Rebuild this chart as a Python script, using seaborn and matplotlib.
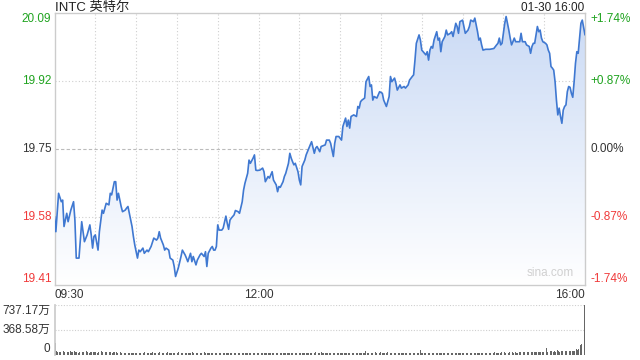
import matplotlib
matplotlib.use("Agg")
import matplotlib.pyplot as plt
import matplotlib.transforms as mtransforms
from matplotlib.colors import LinearSegmentedColormap
import numpy as np
import pandas as pd
import seaborn as sns

# ---------------- data ----------------
title = "INTC 英特尔"
stamp = "01-30 16:00"
prev_close = 19.75
y_ticks = [19.41, 19.58, 19.75, 19.92, 20.09]
pct_labels = ["-1.74%", "-0.87%", "0.00%", "+0.87%", "+1.74%"]
time_labels = ["09:30", "12:00", "16:00"]
time_label_pos = [0, 150, 390]

# minutes after 09:30
minutes = [0, 1, 3, 5, 6, 7, 8, 9, 10, 12, 14, 15, 16, 18, 20, 21, 22, 24, 25, 26,
           27, 28, 29, 30, 32, 33, 35, 36, 38, 40, 41, 42, 44, 45, 46, 47, 49, 50, 52, 53,
           54, 56, 57, 58, 59, 61, 62, 63, 65, 66, 68, 69, 71, 73, 75, 76, 77, 78, 80, 81,
           82, 84, 85, 87, 88, 89, 91, 93, 94, 96, 97, 98, 100, 101, 102, 104, 105, 107, 108, 110,
           111, 112, 113, 115, 116, 117, 118, 119, 120, 121, 123, 124, 126, 127, 128, 129, 130, 132, 133, 135,
           136, 138, 139, 140, 142, 143, 144, 146, 147, 148, 149, 151, 153, 154, 155, 157, 158, 160, 161, 163,
           164, 165, 166, 168, 169, 170, 172, 173, 174, 175, 176, 177, 179, 180, 181, 182, 184, 185, 187, 188,
           189, 191, 192, 193, 195, 196, 199, 200, 202, 203, 205, 206, 207, 209, 211, 212, 214, 215, 216, 217,
           218, 220, 222, 223, 224, 225, 226, 228, 229, 231, 232, 233, 234, 235, 237, 238, 239, 241, 242, 244,
           245, 246, 247, 248, 250, 251, 252, 254, 255, 257, 258, 260, 261, 263, 264, 265, 266, 268, 269, 270,
           271, 273, 274, 275, 276, 277, 278, 279, 281, 282, 283, 284, 285, 287, 288, 289, 291, 292, 293, 295,
           296, 297, 298, 300, 301, 302, 304, 305, 306, 308, 309, 310, 311, 312, 313, 314, 315, 317, 320, 323,
           325, 326, 327, 328, 329, 331, 332, 333, 334, 335, 336, 337, 338, 339, 340, 342, 343, 344, 346, 347,
           349, 350, 351, 352, 353, 354, 355, 356, 357, 358, 359, 361, 362, 363, 364, 365, 366, 367, 368, 369,
           370, 371, 372, 373, 374, 375, 376, 377, 378, 379, 380, 381, 382, 383, 384, 385, 386, 387, 388, 390]

prices = [19.582, 19.544, 19.640, 19.619, 19.623, 19.557, 19.573, 19.590, 19.569, 19.598,
          19.619, 19.573, 19.478, 19.478, 19.569, 19.544, 19.519, 19.536, 19.548, 19.561,
          19.536, 19.503, 19.532, 19.536, 19.498, 19.544, 19.598, 19.590, 19.615, 19.611,
          19.640, 19.636, 19.669, 19.669, 19.623, 19.640, 19.607, 19.594, 19.598, 19.603,
          19.607, 19.573, 19.557, 19.532, 19.511, 19.478, 19.498, 19.494, 19.503, 19.490,
          19.498, 19.494, 19.507, 19.528, 19.523, 19.528, 19.544, 19.528, 19.511, 19.498,
          19.503, 19.498, 19.478, 19.473, 19.457, 19.432, 19.453, 19.482, 19.498, 19.486,
          19.478, 19.469, 19.490, 19.469, 19.482, 19.461, 19.473, 19.486, 19.490, 19.482,
          19.494, 19.457, 19.490, 19.503, 19.507, 19.498, 19.498, 19.507, 19.561, 19.548,
          19.548, 19.553, 19.583, 19.565, 19.550, 19.573, 19.578, 19.586, 19.597, 19.594,
          19.590, 19.619, 19.648, 19.665, 19.690, 19.723, 19.715, 19.728, 19.736, 19.698,
          19.697, 19.698, 19.703, 19.694, 19.669, 19.682, 19.678, 19.694, 19.673, 19.661,
          19.644, 19.657, 19.655, 19.669, 19.682, 19.690, 19.715, 19.740, 19.728, 19.719,
          19.711, 19.715, 19.694, 19.673, 19.661, 19.707, 19.723, 19.736, 19.753, 19.761,
          19.769, 19.740, 19.753, 19.757, 19.744, 19.757, 19.761, 19.773, 19.773, 19.765,
          19.732, 19.765, 19.782, 19.782, 19.773, 19.807, 19.828, 19.807, 19.823, 19.803,
          19.832, 19.836, 19.832, 19.857, 19.853, 19.869, 19.873, 19.878, 19.919, 19.932,
          19.907, 19.911, 19.873, 19.882, 19.878, 19.886, 19.894, 19.890, 19.873, 19.857,
          19.869, 19.882, 19.932, 19.919, 19.928, 19.915, 19.898, 19.911, 19.903, 19.907,
          19.903, 19.911, 19.923, 19.932, 19.936, 19.973, 20.015, 20.036, 20.023, 19.998,
          19.994, 19.986, 19.994, 19.973, 19.998, 20.007, 20.003, 20.023, 20.044, 20.023,
          20.028, 19.994, 20.019, 20.032, 20.048, 20.036, 20.040, 20.044, 20.032, 20.065,
          20.057, 20.040, 20.069, 20.073, 20.057, 20.040, 20.048, 20.057, 20.073, 20.069,
          20.078, 20.061, 20.044, 20.023, 20.028, 20.011, 19.998, 20.000, 20.000, 20.002,
          20.011, 20.015, 20.028, 20.011, 20.015, 20.065, 20.082, 20.065, 20.048, 20.028,
          20.011, 20.019, 20.028, 20.019, 20.019, 20.019, 20.040, 20.019, 20.019, 20.011,
          20.007, 19.990, 20.007, 20.015, 20.015, 20.036, 20.057, 20.044, 20.048, 20.028,
          20.019, 20.015, 20.011, 19.998, 19.990, 19.957, 19.953, 19.948, 19.919, 19.873,
          19.836, 19.853, 19.832, 19.815, 19.848, 19.857, 19.861, 19.894, 19.907, 19.905,
          19.890, 19.880, 19.919, 19.965, 19.994, 19.990, 20.028, 20.065, 20.073, 20.036]

# volume per minute, in 万 shares (09:30 .. 16:00)
volume = [
    170, 45, 30, 40, 35, 28, 50, 38, 30, 42, 36, 55, 40, 33, 45, 38, 30, 28, 35, 40, 32, 30, 36, 45, 30, 28, 33, 40, 35, 30,
    30, 28, 35, 32, 45, 30, 26, 38, 40, 52, 35, 30, 28, 33, 36, 30, 27, 25, 30, 28, 26, 24, 28, 30, 25, 27, 26, 24, 22, 25,
    24, 26, 22, 25, 28, 24, 30, 26, 22, 25, 27, 24, 32, 28, 25, 24, 26, 30, 28, 25, 24, 27, 26, 30, 28, 24, 25, 26, 28, 24,
    26, 30, 28, 24, 25, 34, 28, 26, 24, 25, 27, 30, 26, 24, 28, 26, 25, 24, 23, 26, 40, 28, 25, 24, 26, 24, 23, 25, 24, 22,
    22, 24, 23, 21, 22, 25, 23, 22, 24, 21, 22, 23, 25, 22, 21, 24, 22, 23, 22, 21, 22, 24, 23, 22, 21, 22, 23, 22, 24, 21,
    22, 21, 23, 22, 20, 22, 24, 21, 22, 23, 21, 20, 22, 24, 21, 22, 23, 22, 21, 20, 22, 21, 23, 24, 22, 21, 20, 22, 23, 21,
    22, 23, 21, 24, 22, 26, 24, 23, 25, 28, 26, 24, 30, 35, 28, 26, 30, 27, 25, 28, 26, 24, 27, 25, 26, 24, 22, 25, 24, 23,
    25, 24, 26, 23, 22, 24, 26, 25, 28, 24, 22, 23, 25, 24, 26, 22, 23, 24, 22, 50, 23, 25, 24, 22, 26, 28, 30, 24, 26, 28,
    30, 26, 28, 25, 27, 30, 26, 25, 28, 24, 26, 27, 25, 28, 26, 24, 25, 27, 26, 24, 25, 26, 28, 24, 23, 25, 70, 22, 23, 68,
    22, 23, 21, 22, 24, 22, 21, 23, 22, 21, 22, 23, 24, 22, 21, 23, 22, 24, 23, 22, 21, 22, 25, 23, 22, 24, 22, 21, 23, 22,
    24, 22, 23, 25, 22, 24, 23, 21, 22, 24, 23, 25, 22, 24, 26, 23, 25, 24, 22, 26, 25, 24, 28, 26, 30, 27, 25, 28, 26, 30,
    28, 30, 26, 32, 28, 30, 27, 31, 28, 30, 29, 27, 32, 30, 28, 33, 30, 29, 34, 31, 30, 35, 32, 30, 36, 33, 34, 38, 35, 36,
    40, 45, 100, 42, 38, 50, 45, 40, 48, 42, 60, 45, 42, 50, 48, 44, 52, 50, 46, 55, 50, 48, 58, 52, 75, 60, 80, 135, 150, 343,
    737.17]
vol_max = 737.17
vol_tick_labels = ["0", "368.58万", "737.17万"]

# ---------------- style ----------------
sns.set_theme(style="white")
plt.rcParams["font.family"] = ["Liberation Sans", "Noto Sans CJK SC", "DejaVu Sans"]

GREEN = "#1fa31f"
RED = "#f03a3a"
DARK = "#333333"
LINE = "#3f78d1"
FRAME = "#cccccc"
GRID = "#cfcfcf"
FS = 8.5

df = pd.DataFrame({"minute": minutes, "price": prices})
vdf = pd.DataFrame({"minute": np.arange(len(volume)), "vol": volume})

fig = plt.figure(figsize=(6.4, 3.6), dpi=100)
W, H = 640.0, 360.0
left, right = 54.5, 585.0
ax = fig.add_axes([left / W, 1 - 285.3 / H, (right - left) / W, 272 / H])
axv = fig.add_axes([left / W, 1 - 354.5 / H, (right - left) / W, 49.5 / H])

ymin, ymax = y_ticks[0], y_ticks[-1]

# gradient fill under the line
grad = np.linspace(1, 0, 256).reshape(-1, 1)
cmap = LinearSegmentedColormap.from_list("g", ["#ffffff", "#cadaf5"])
im = ax.imshow(grad, aspect="auto", cmap=cmap, extent=[0, 390, ymin, ymax],
               origin="upper", zorder=1, vmin=0, vmax=1)
poly = ax.fill_between(df["minute"], df["price"], ymin, color="none", lw=0)
im.set_clip_path(poly.get_paths()[0], transform=ax.transData)

sns.lineplot(data=df, x="minute", y="price", ax=ax, color=LINE, lw=1.2, zorder=3)

ax.set_xlim(0, 390)
ax.set_ylim(ymin, ymax)
ax.set_xlabel("")
ax.set_ylabel("")
ax.set_xticks([])
ax.set_yticks([])
tick_colors = [RED, RED, DARK, GREEN, GREEN]
tick_va = ["bottom", "center", "center", "center", "top"]

# grid lines
for m in range(30, 390, 30):
    ax.axvline(m, color=GRID, lw=0.8, ls=(0, (1, 2)), zorder=0.5)
for v in y_ticks[1:-1]:
    ax.axhline(v, color="#bbbbbb" if v == prev_close else GRID, lw=0.8,
               ls=(0, (3, 2)) if v == prev_close else (0, (1, 2)), zorder=0.5)

for s in ax.spines.values():
    s.set_color(FRAME)
    s.set_linewidth(1)

# left price labels and right-hand percent labels
btr = mtransforms.blended_transform_factory(ax.transAxes, ax.transData)
for v, lab, c, va in zip(y_ticks, pct_labels, tick_colors, tick_va):
    ax.text(-0.006, v, f"{v:.2f}", transform=btr, ha="right", va=va, fontsize=FS, color=c)
    ax.text(1.01, v, lab, transform=btr, ha="left", va=va, fontsize=FS, color=c)

# time labels
trans = mtransforms.blended_transform_factory(ax.transData, ax.transAxes)
for pos, lab, ha in zip(time_label_pos, time_labels, ["left", "center", "right"]):
    ax.text(pos, -0.012, lab, transform=trans, ha=ha, va="top", fontsize=FS, color=DARK)

ax.text(0.935, 0.025, "sina.com", transform=ax.transAxes, ha="center", va="bottom",
        fontsize=8.5, color="#d0d0d0", zorder=4)

fig.text(left / W + 0.001, 1 - 8 / H, title, ha="left", va="center", fontsize=9.5, color="#222222")
fig.text(584 / W, 1 - 8 / H, stamp, ha="right", va="center", fontsize=FS, color="#222222")

# volume panel
axv.bar(vdf["minute"], vdf["vol"], width=0.6, color="#666666", linewidth=0)
axv.set_xlim(-0.5, 390.5)
axv.set_ylim(0, vol_max)
axv.set_xticks([])
axv.set_yticks([])
vtr = mtransforms.blended_transform_factory(axv.transAxes, axv.transData)
for v, lab, va in zip([0, vol_max / 2, vol_max], vol_tick_labels, ["bottom", "center", "top"]):
    axv.text(-0.008, v, lab, transform=vtr, ha="right", va=va, fontsize=FS, color=DARK)
for v in [vol_max / 2, vol_max]:
    axv.axhline(v, color=GRID, lw=0.8, ls=(0, (1, 1.5)), zorder=0)
for k, s in axv.spines.items():
    s.set_visible(k == "left")
axv.spines["left"].set_color(FRAME)
axv.set_xlabel("")
axv.set_ylabel("")
axv.set_facecolor("white")

fig.savefig("out.png", dpi=100)
